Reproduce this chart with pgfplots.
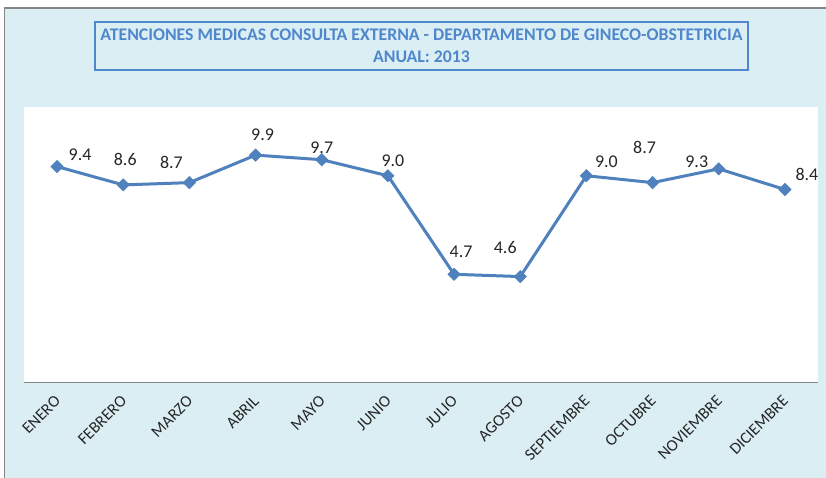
\documentclass[border=0pt]{standalone}
\usepackage{fontspec}
\setmainfont{Carlito}
\usepackage{pgfplots}
\pgfplotsset{compat=1.18}
\usepackage{pgfplotstable}
\definecolor{bgblue}{RGB}{219,238,244}
\definecolor{lineblue}{RGB}{79,129,189}
\definecolor{titleblue}{RGB}{79,135,205}
\definecolor{bordergray}{RGB}{134,134,134}

\pgfplotstableread{
x y dx dy
0 9.4 23 12
1 8.6 2 25
2 8.7 -18 20
3 9.9 7 20
4 9.7 0 12
5 9.0 5 14.5
6 4.7 7 22
7 4.6 -15 29
8 9.0 20 14
9 8.7 -8 35
10 9.3 -22 7
11 8.4 22 15
}\datatable

\begin{document}
\begin{tikzpicture}
\useasboundingbox (0bp,0bp) rectangle (826bp,478bp);
\fill[bgblue] (4.5bp,0bp) rectangle (826bp,470bp);
\draw[bordergray, line width=1.2bp] (4.5bp,0bp) -- (4.5bp,470bp) -- (826bp,470bp);
\node[draw=titleblue, line width=1.3bp, minimum width=653bp, minimum height=48bp,
      align=center, text=titleblue, inner sep=0pt,
      font=\fontsize{17.8}{22}\selectfont\bfseries] at (421.5bp,432bp)
      {ATENCIONES MEDICAS CONSULTA EXTERNA - DEPARTAMENTO DE GINECO-OBSTETRICIA\\ANUAL: 2013};
\begin{axis}[
  at={(24bp,96bp)}, anchor=south west,
  scale only axis, width=794bp, height=275bp,
  xmin=-0.5, xmax=11.5, ymin=0, ymax=12,
  axis background/.style={fill=white},
  axis x line*=bottom, axis y line=none,
  x axis line style={draw=bordergray, line width=0.8bp},
  major tick length=0pt,
  ytick=\empty,
  xtick={0,...,11},
  xticklabels={ENERO,FEBRERO,MARZO,ABRIL,MAYO,JUNIO,JULIO,AGOSTO,SEPTIEMBRE,OCTUBRE,NOVIEMBRE,DICIEMBRE},
  xticklabel style={font=\fontsize{16.5}{18}\selectfont, text=black!85, yshift=-14bp, xshift=3bp, rotate=45, anchor=east},
  clip=false,
  /pgf/number format/assume math mode=true,
  visualization depends on={\thisrow{dx} \as \labdx},
  visualization depends on={\thisrow{dy} \as \labdy},
  nodes near coords={\pgfmathprintnumber[fixed,fixed zerofill,precision=1]{\pgfplotspointmeta}},
  every node near coord/.append style={anchor=center, xshift=\labdx*1bp, yshift=\labdy*1bp,
     font=\fontsize{18}{20}\selectfont, text=black!85},
]
\addplot[lineblue, line width=3bp, line join=round, mark=square*, mark size=4.4bp,
  mark options={rotate=45, solid, fill=lineblue, line width=0.5bp}]
  table[x=x,y=y] {\datatable};
\end{axis}
\end{tikzpicture}
\end{document}
